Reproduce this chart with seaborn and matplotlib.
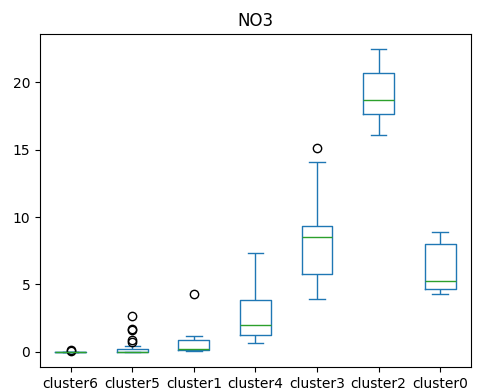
import seaborn as sns
import pandas as pd
import matplotlib
matplotlib.use("Agg")
import matplotlib.pyplot as plt


order = ["cluster6", "cluster5", "cluster1", "cluster4", "cluster3", "cluster2", "cluster0"]

cluster6 = [0.0, 0.0, 0.0, 0.0, 0.0, 0.0, 0.0, 0.0, 0.05, 0.1]
cluster5 = [0.0, 0.0, 0.0, 0.0, 0.0, 0.0, 0.0, 0.0, 0.0, 0.0, 0.0, 0.0, 0.0,
            0.05, 0.08, 0.1, 0.12, 0.15, 0.2, 0.4, 0.69, 0.89, 1.6, 1.68, 2.69]
cluster1 = [0.02, 0.1, 0.12, 0.15, 0.22, 0.5, 0.89, 1.14, 4.3]
cluster4 = [0.62, 1.21, 2.0, 3.83, 7.36]
cluster3 = [3.9, 4.8, 5.75, 7.2, 8.52, 9.0, 9.36, 14.05, 15.09]
cluster2 = [16.07, 17.63, 18.69, 20.69, 22.49]
cluster0 = [4.30, 4.69, 5.28, 8.02, 8.91]

values = {"cluster6": cluster6, "cluster5": cluster5, "cluster1": cluster1,
          "cluster4": cluster4, "cluster3": cluster3, "cluster2": cluster2,
          "cluster0": cluster0}

rows = []
for name in order:
    for v in values[name]:
        rows.append([name, v])
df = pd.DataFrame(rows, columns=["cluster", "NO3"])

fig = plt.figure(figsize=(4.81, 3.89), dpi=100)
ax = fig.add_axes([0.083, 0.057, 0.896, 0.856])
sns.boxplot(data=df, x="cluster", y="NO3", order=order, width=0.5,
            fill=False, color="#1f77b4", linewidth=1.0, ax=ax,
            medianprops=dict(color="#2ca02c", linewidth=1.0),
            flierprops=dict(marker="o", markerfacecolor="none",
                            markeredgecolor="black", markersize=6))
ax.set_title("NO3")
ax.set_xlabel("")
ax.set_ylabel("")
ax.set_ylim(-1.12, 23.6)
fig.savefig("out.png", dpi=100)
